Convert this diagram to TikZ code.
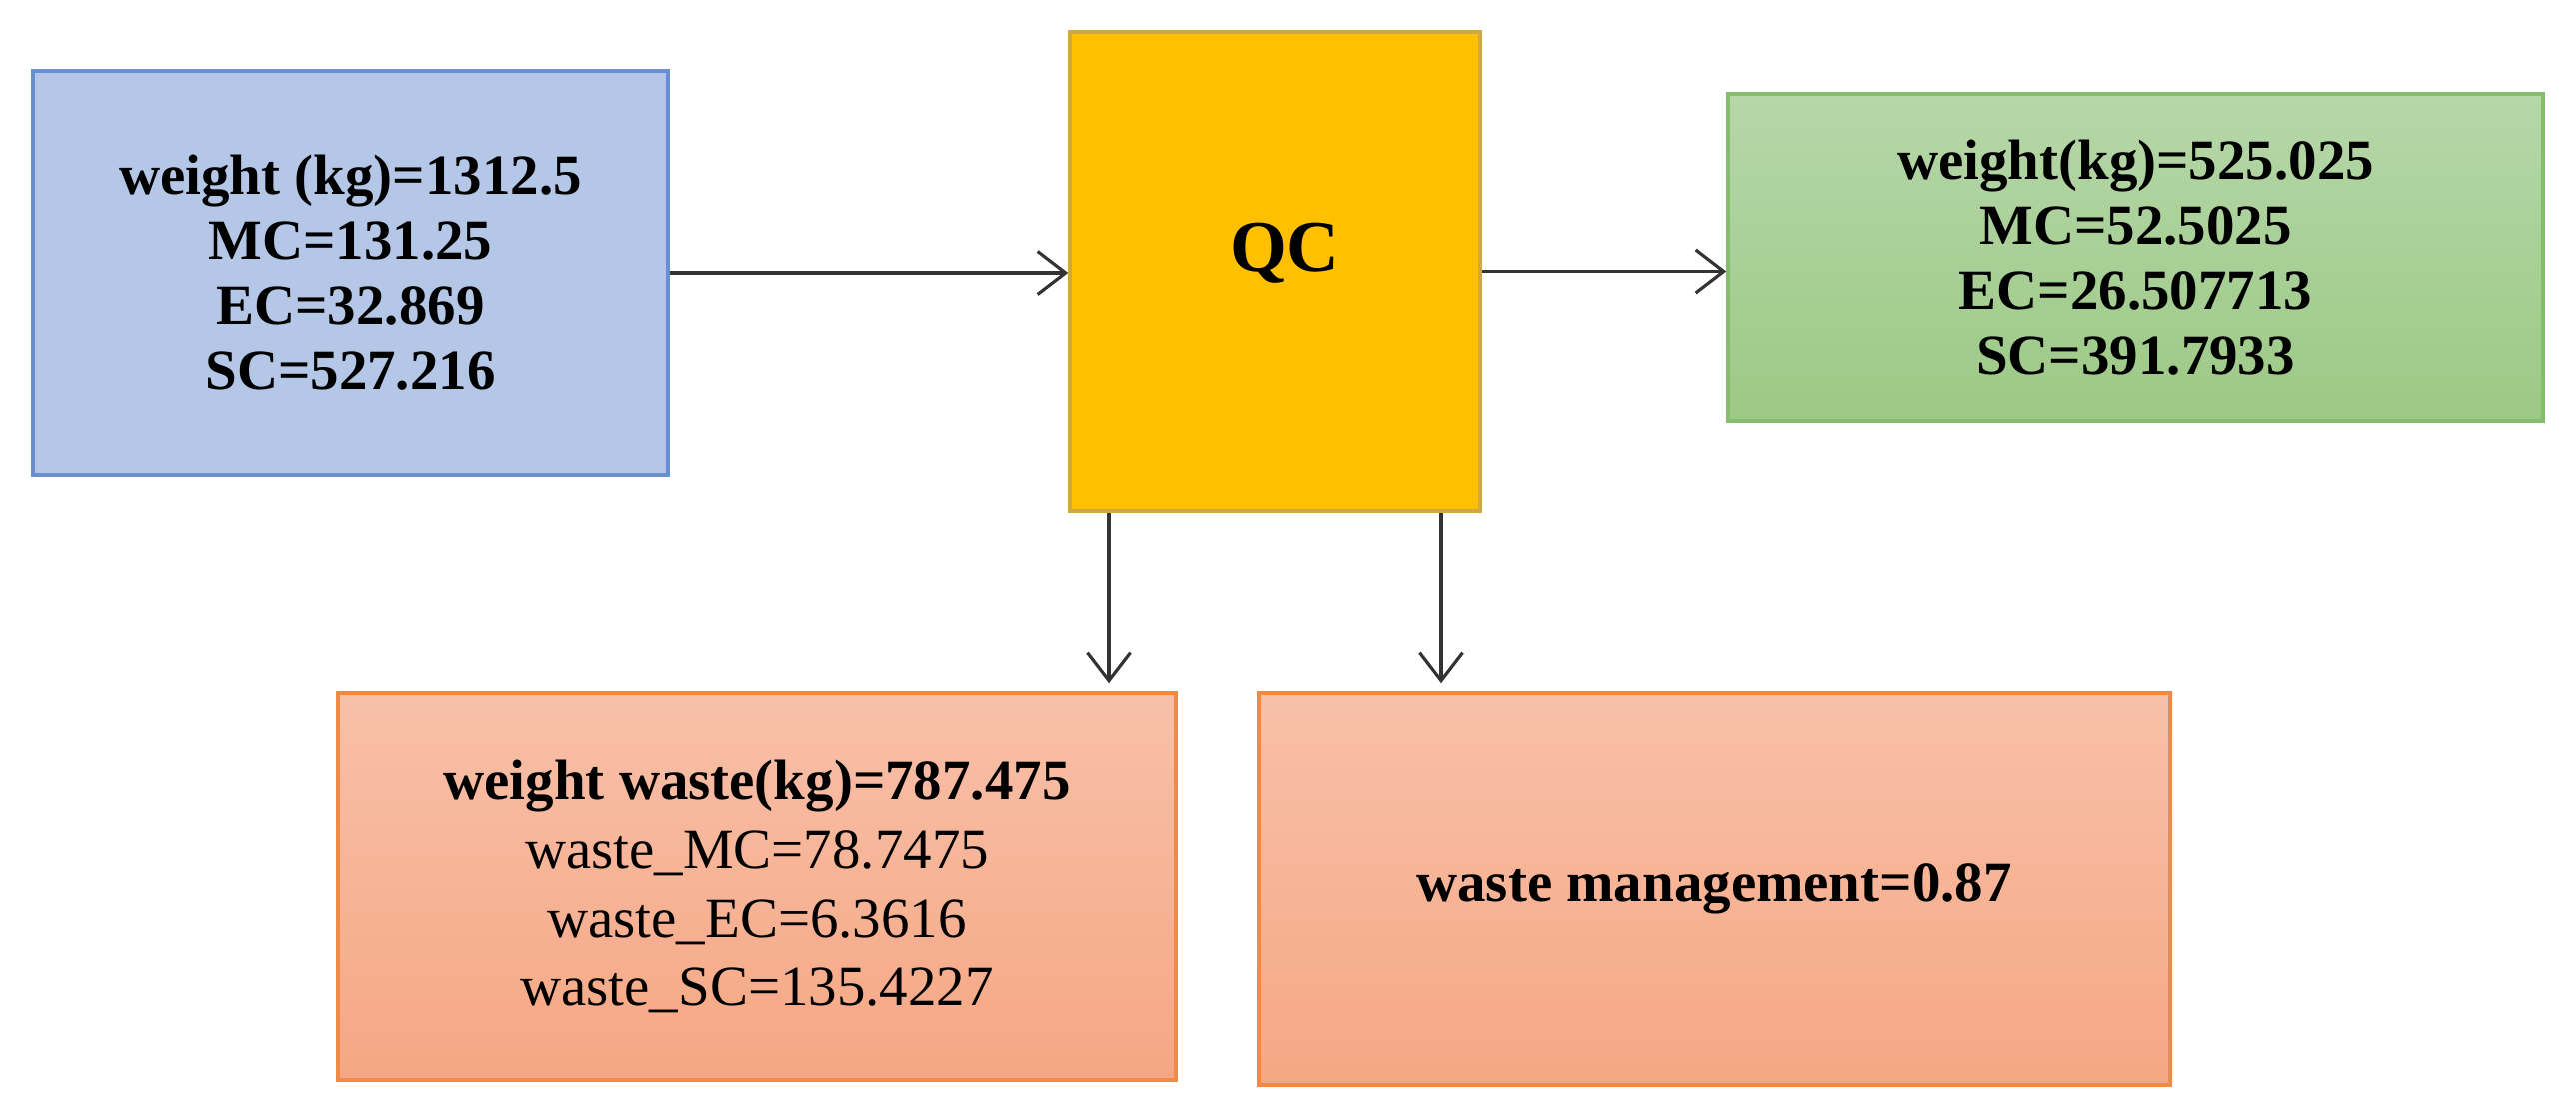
\documentclass[tikz,border=0pt]{standalone}
\usepackage{fontspec}
\setmainfont{Liberation Serif}
\usetikzlibrary{arrows.meta, positioning}

\definecolor{inblue}{HTML}{B4C7E7}
\definecolor{inblueline}{HTML}{6A8FD0}
\definecolor{qcgold}{HTML}{FFC000}
\definecolor{qcline}{HTML}{CFA844}
\definecolor{outtop}{HTML}{B6D7A9}
\definecolor{outbot}{HTML}{9CC985}
\definecolor{outline}{HTML}{86BC6E}
\definecolor{wastetop}{HTML}{F8C0A9}
\definecolor{wastebot}{HTML}{F5A783}
\definecolor{wasteline}{HTML}{F08A45}

\begin{document}
\begin{tikzpicture}
		\tikzstyle{Box} = [rectangle, inner sep=0pt, align=center, line width=1pt, font=\fontsize{16.2}{18.5}\selectfont]
		\tikzstyle{arrow} = [line width=0.9pt, draw=black!80, -{Straight Barb[length=2.8mm, width=4.3mm]}]

		\useasboundingbox (0,0) rectangle (25.77,-11.19);

		\node (inp) [Box, draw=inblueline, fill=inblue, minimum width=6.35cm, minimum height=4.04cm] at (3.505,-2.73)
			{\textbf{weight (kg)=1312.5}\\ \textbf{MC=131.25}\\ \textbf{EC=32.869}\\ \textbf{SC=527.216}};
		\node (qc) [Box, draw=qcline, fill=qcgold, minimum width=4.11cm, minimum height=4.79cm] at (12.755,-2.715) {};
		\node (qct) [font=\fontsize{20.8}{24}\selectfont\bfseries] at (12.85,-2.53) {QC};
		\node (out) [Box, draw=outline, top color=outtop, bottom color=outbot, minimum width=8.15cm, minimum height=3.27cm] at (21.365,-2.575)
			{\textbf{weight(kg)=525.025}\\ \textbf{MC=52.5025}\\ \textbf{EC=26.507713}\\ \textbf{SC=391.7933}};
		\node (wst) [Box, draw=wasteline, top color=wastetop, bottom color=wastebot, minimum width=8.38cm, minimum height=3.87cm, font=\fontsize{16.2}{19.6}\selectfont] at (7.57,-8.865)
			{\textbf{weight waste(kg)=787.475}\\ waste\_MC=78.7475\\ waste\_EC=6.3616\\ waste\_SC=135.4227};
		\node (mgt) [Box, draw=wasteline, top color=wastetop, bottom color=wastebot, minimum width=9.12cm, minimum height=3.92cm] at (17.15,-8.89)
			{\textbf{waste management=0.87}};

		\draw [arrow] (inp.east) -- (inp.east -| qc.west);
		\draw [arrow] (qc.east) -- (qc.east -| out.west);
		\draw [arrow, shorten >=0.08cm] ([xshift=-1.665cm]qc.south) -- ([xshift=-1.665cm]qc.south |- wst.north);
		\draw [arrow, shorten >=0.08cm] ([xshift=1.665cm]qc.south) -- ([xshift=1.665cm]qc.south |- mgt.north);
\end{tikzpicture}
\end{document}
